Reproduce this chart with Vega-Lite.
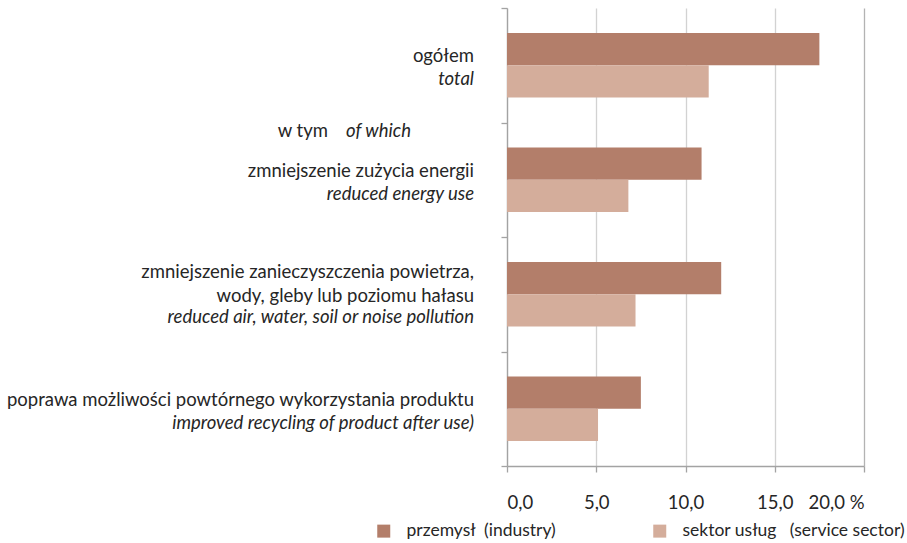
{
  "$schema": "https://vega.github.io/schema/vega-lite/v6.json",
  "width": 357,
  "height": 458,
  "autosize": "none",
  "padding": {"left": 507, "top": 8, "right": 43, "bottom": 77},
  "background": "white",
  "config": {
    "view": {"stroke": null},
    "font": "Lato",
    "axis": {"labelFont": "Lato", "titleFont": "Lato"},
    "legend": {"labelFont": "Lato"}
  },
  "datasets": {
    "bars": [
      {"kategoria": "ogółem", "seria": "przemysł\u00a0 (industry)", "wartosc": 17.5},
      {"kategoria": "ogółem", "seria": "sektor usług\u00a0\u00a0 (service sector)", "wartosc": 11.3},
      {"kategoria": "zmniejszenie zużycia energii", "seria": "przemysł\u00a0 (industry)", "wartosc": 10.9},
      {"kategoria": "zmniejszenie zużycia energii", "seria": "sektor usług\u00a0\u00a0 (service sector)", "wartosc": 6.8},
      {"kategoria": "zmniejszenie zanieczyszczenia powietrza, wody, gleby lub poziomu hałasu", "seria": "przemysł\u00a0 (industry)", "wartosc": 12.0},
      {"kategoria": "zmniejszenie zanieczyszczenia powietrza, wody, gleby lub poziomu hałasu", "seria": "sektor usług\u00a0\u00a0 (service sector)", "wartosc": 7.2},
      {"kategoria": "poprawa możliwości powtórnego wykorzystania produktu", "seria": "przemysł\u00a0 (industry)", "wartosc": 7.5},
      {"kategoria": "poprawa możliwości powtórnego wykorzystania produktu", "seria": "sektor usług\u00a0\u00a0 (service sector)", "wartosc": 5.1}
    ],
    "etykiety": [
      {"kategoria": "ogółem", "pl": ["ogółem"], "en": "total"},
      {"kategoria": "zmniejszenie zużycia energii", "pl": ["zmniejszenie zużycia energii"], "en": "reduced energy use"},
      {"kategoria": "zmniejszenie zanieczyszczenia powietrza, wody, gleby lub poziomu hałasu", "pl": ["zmniejszenie zanieczyszczenia powietrza,", "wody, gleby lub poziomu hałasu"], "en": "reduced air, water, soil or noise pollution"},
      {"kategoria": "poprawa możliwości powtórnego wykorzystania produktu", "pl": ["poprawa możliwości powtórnego wykorzystania produktu"], "en": "improved recycling of product after use)"}
    ],
    "uwaga": [
      {"kategoria": "zmniejszenie zużycia energii", "pl": "w tym", "en": "of which"}
    ]
  },
  "layer": [
    {
      "data": {"name": "bars"},
      "mark": {"type": "bar"},
      "encoding": {
        "y": {
          "field": "kategoria", "type": "nominal",
          "sort": null,
          "scale": {"domain": ["ogółem", "zmniejszenie zużycia energii", "zmniejszenie zanieczyszczenia powietrza, wody, gleby lub poziomu hałasu", "poprawa możliwości powtórnego wykorzystania produktu"], "paddingInner": 0, "paddingOuter": 0},
          "axis": {"title": null, "labels": false, "domain": true, "domainColor": "#a3a3a3", "domainWidth": 1.3, "ticks": true, "tickBand": "extent", "tickSize": 6, "tickColor": "#a3a3a3", "tickWidth": 1.3, "grid": false}
        },
        "yOffset": {
          "field": "seria", "type": "nominal",
          "sort": null,
          "scale": {"domain": ["przemysł\u00a0 (industry)", "sektor usług\u00a0\u00a0 (service sector)"], "paddingInner": 0, "paddingOuter": 0.77}
        },
        "x": {
          "field": "wartosc", "type": "quantitative",
          "scale": {"domain": [0, 20], "nice": false},
          "axis": {"title": null, "values": [0, 5, 10, 15, 20], "labelExpr": "replace(format(datum.value, '.1f'), '.', ',') + (datum.value == 20 ? ' %' : '')", "labelFontSize": 18.5, "labelColor": "#262626", "labelPadding": 21, "grid": true, "gridColor": {"condition": {"test": "datum.value == 20", "value": "#b3b3b3"}, "value": "#d2d2d2"}, "gridWidth": 1.3, "domain": true, "domainColor": "#a3a3a3", "domainWidth": 1.3, "ticks": true, "tickSize": 6, "tickColor": "#a3a3a3", "tickWidth": 1.3}
        },
        "color": {
          "field": "seria", "type": "nominal",
          "sort": null,
          "scale": {"domain": ["przemysł\u00a0 (industry)", "sektor usług\u00a0\u00a0 (service sector)"], "range": ["#b37e6a", "#d4ad9b"]},
          "legend": {"orient": "none", "legendX": -132, "legendY": 514, "direction": "horizontal", "title": null, "symbolType": "square", "symbolSize": 169, "symbolStrokeWidth": 0, "labelFontSize": 17.5, "labelColor": "#262626", "labelOffset": 14, "columnPadding": 95, "labelLimit": 0}
        }
      }
    },
    {
      "data": {"name": "etykiety"},
      "transform": [{"filter": "length(datum.pl) == 1"}],
      "mark": {"type": "text", "align": "right", "baseline": "alphabetic", "dx": -33, "dy": -3.25, "fontSize": 18.5, "color": "#262626"},
      "encoding": {
        "y": {"field": "kategoria", "type": "nominal", "sort": null},
        "x": {"datum": 0},
        "text": {"field": "pl"}
      }
    },
    {
      "data": {"name": "etykiety"},
      "transform": [{"filter": "length(datum.pl) == 1"}],
      "mark": {"type": "text", "align": "right", "baseline": "alphabetic", "dx": -33, "dy": 19.75, "fontSize": 18.5, "fontStyle": "italic", "color": "#262626"},
      "encoding": {
        "y": {"field": "kategoria", "type": "nominal", "sort": null},
        "x": {"datum": 0},
        "text": {"field": "en"}
      }
    },
    {
      "data": {"name": "etykiety"},
      "transform": [{"filter": "length(datum.pl) == 2"}],
      "mark": {"type": "text", "align": "right", "baseline": "alphabetic", "dx": -33, "dy": -16.25, "lineHeight": 24, "fontSize": 18.5, "color": "#262626"},
      "encoding": {
        "y": {"field": "kategoria", "type": "nominal", "sort": null},
        "x": {"datum": 0},
        "text": {"field": "pl"}
      }
    },
    {
      "data": {"name": "etykiety"},
      "transform": [{"filter": "length(datum.pl) == 2"}],
      "mark": {"type": "text", "align": "right", "baseline": "alphabetic", "dx": -33, "dy": 28.75, "fontSize": 18.5, "fontStyle": "italic", "color": "#262626"},
      "encoding": {
        "y": {"field": "kategoria", "type": "nominal", "sort": null},
        "x": {"datum": 0},
        "text": {"field": "en"}
      }
    },
    {
      "data": {"name": "uwaga"},
      "mark": {"type": "text", "align": "right", "baseline": "alphabetic", "dx": -179, "dy": 14, "fontSize": 18.5, "color": "#262626"},
      "encoding": {
        "y": {"field": "kategoria", "type": "nominal", "sort": null, "bandPosition": 0},
        "x": {"datum": 0},
        "text": {"field": "pl"}
      }
    },
    {
      "data": {"name": "uwaga"},
      "mark": {"type": "text", "align": "left", "baseline": "alphabetic", "dx": -161, "dy": 14, "fontSize": 18.5, "fontStyle": "italic", "color": "#262626"},
      "encoding": {
        "y": {"field": "kategoria", "type": "nominal", "sort": null, "bandPosition": 0},
        "x": {"datum": 0},
        "text": {"field": "en"}
      }
    }
  ]
}
